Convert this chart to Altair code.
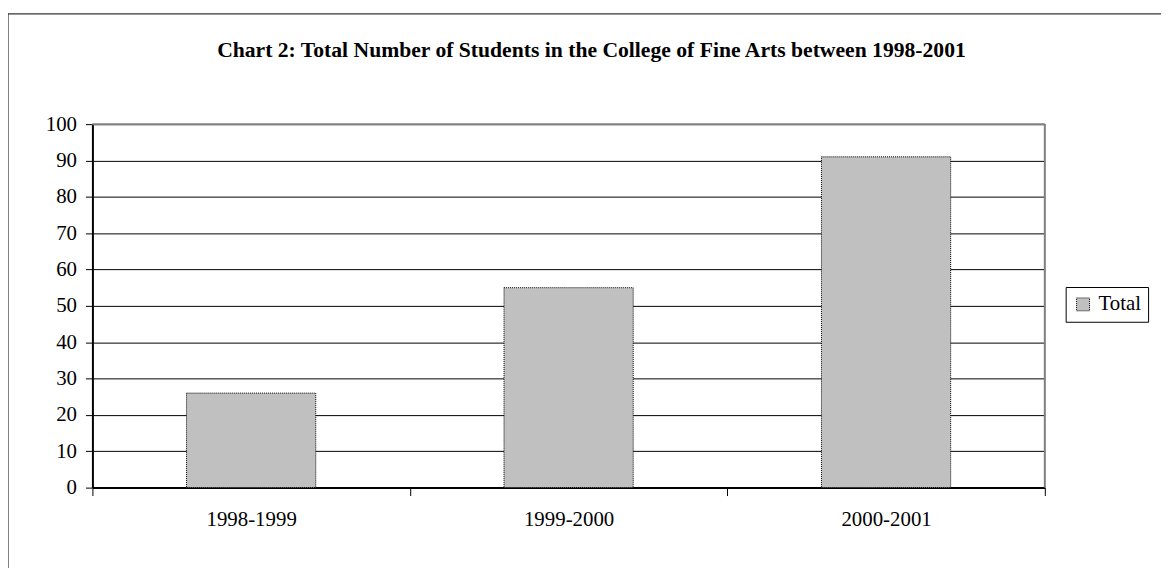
import altair as alt
import pandas as pd

years = ["1998-1999", "1999-2000", "2000-2001"]
totals = [26, 55, 91]
series = ["Total", "Total", "Total"]
y_ticks = [0, 10, 20, 30, 40, 50, 60, 70, 80, 90, 100]
title_text = "Chart 2: Total Number of Students in the College of Fine Arts between 1998-2001"

df = pd.DataFrame({"year": years, "total": totals, "series": series})
one = pd.DataFrame({"k": [0]})

W, H = 959, 366
FONT = "Liberation Serif"

frame = alt.Chart(one).mark_rect(fill="white", fillOpacity=0, stroke="black", strokeWidth=1).encode(
    x=alt.value(-85), x2=alt.value(W + 300), y=alt.value(-111), y2=alt.value(H + 200)
)

bars = alt.Chart(df).mark_bar(
    stroke="black", strokeWidth=1, strokeDash=[1, 1], width=alt.RelativeBandSize(0.407)
).encode(
    x=alt.X(
        "year:N", sort=years, title=None,
        scale=alt.Scale(paddingInner=0, paddingOuter=0),
        axis=alt.Axis(
            labelAngle=0, tickBand="extent", grid=False,
            labelFont=FONT, labelFontSize=21, labelColor="black", labelPadding=13,
            domainColor="black", domainWidth=2, tickColor="black", tickSize=8, tickWidth=1,
        ),
    ),
    y=alt.Y(
        "total:Q", title=None,
        scale=alt.Scale(domain=[0, 100], nice=False),
        axis=alt.Axis(
            values=y_ticks, grid=True, gridColor="black", gridOpacity=1, gridWidth=1,
            labelFont=FONT, labelFontSize=21, labelColor="black", labelPadding=9,
            domainColor="black", domainWidth=2, tickColor="black", tickSize=7, tickWidth=1,
        ),
    ),
    color=alt.Color(
        "series:N", title=None,
        scale=alt.Scale(range=["#c0c0c0"]),
        legend=alt.Legend(
            orient="none", legendX=980, legendY=164,
            strokeColor="black", fillColor="white", padding=7, cornerRadius=0,
            symbolType="square", symbolSize=169, symbolStrokeColor="black",
            symbolStrokeWidth=1, symbolDash=[1, 1], symbolOffset=0,
            labelFont=FONT, labelFontSize=21, labelColor="black", labelOffset=5,
        ),
    ),
)

top_border = alt.Chart(one).mark_rule(color="#808080", strokeWidth=2).encode(
    x=alt.value(0), x2=alt.value(W), y=alt.value(0)
)
right_border = alt.Chart(one).mark_rule(color="#808080", strokeWidth=2).encode(
    x=alt.value(W), y=alt.value(0), y2=alt.value(H)
)

chart = alt.layer(frame, bars, top_border, right_border).properties(
    width=W, height=H,
    padding={"left": 85, "top": 115, "right": 117, "bottom": 79},
    autosize=alt.AutoSizeParams(type="none"),
    title=alt.TitleParams(
        title_text, font=FONT, fontSize=21.8, fontWeight="bold", color="black",
        anchor="middle", frame="group", baseline="alphabetic", offset=-66, dx=23,
    ),
).configure_view(stroke=None).configure(background="white")

chart.save("out.html", embed_options={"renderer": "svg", "actions": False})
